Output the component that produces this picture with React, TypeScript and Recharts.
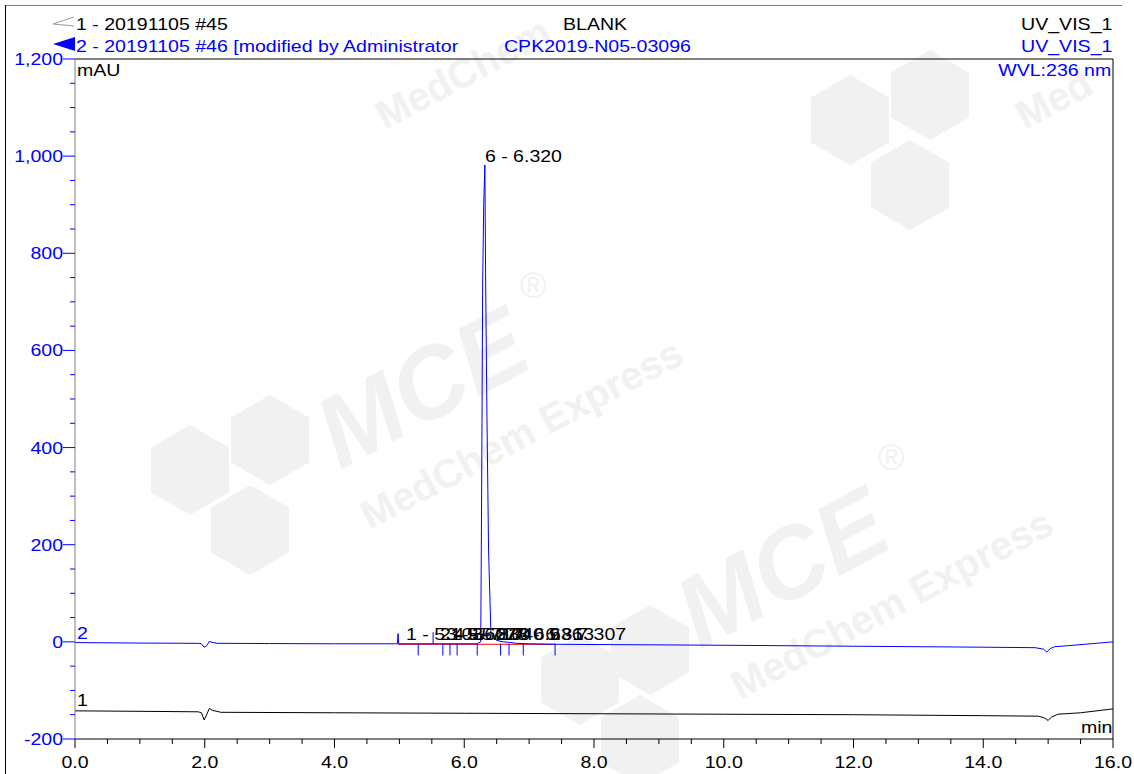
import React from 'react';
import { ComposedChart, Line, Scatter, XAxis, YAxis, ReferenceLine } from 'recharts';

// trace 2 (blue) - 20191105 #46
const blueTime = [0, 1.0, 1.9, 1.95, 1.99, 2.03, 2.07, 2.11, 2.2, 3.0, 4.0, 4.97, 4.98, 4.99, 5.5, 6.0, 6.2, 6.254, 6.263, 6.274, 6.284, 6.3, 6.318, 6.33, 6.35, 6.375, 6.41, 6.45, 6.5, 6.6, 6.7, 6.8, 7.0, 7.4, 8.0, 10.0, 12.0, 14.0, 14.8, 14.93, 14.98, 15.03, 15.1, 15.3, 16.0];
const blueValue = [-1.5, -2.5, -3, -4, -11, -8, 1, -1, -3, -3.5, -4, -4, 17, -4, -4, -4, -4, 0, 189, 463, 739, 900, 982, 739, 463, 189, 20, 8, 3, 0, -1, -3, -4, -5, -5.5, -7, -9, -11, -12, -15, -21, -14, -10, -8, 0];

// trace 1 (black) - 20191105 #45
const blackTime = [0, 1.0, 1.9, 1.95, 1.99, 2.03, 2.07, 2.12, 2.25, 4.0, 6.0, 8.0, 10.0, 12.0, 14.0, 14.85, 14.95, 15.0, 15.05, 15.15, 15.5, 16.0];
const blackValue = [-142, -143, -144, -146, -161, -150, -137, -141, -145, -146, -147, -148, -149, -150, -152, -153, -157, -162, -155, -149, -146, -138];

// peak labels
const peakTime = [5.103, 5.627, 5.717, 5.83, 6.04, 6.318, 6.636, 6.813, 7.307];
const peakHeight = [-2, -2, -2, -2, -2, 982, -2, -2, -2];
const peakName = ['1 - 5.103', '2 - 5.627', '3 - 5.717', '4 - 5.830', '5 - 6.040', '6 - 6.320', '7 - 6.636', '8 - 6.813', '9 - 7.307'];

// peak delimiters (below baseline) and start markers (above)
const delimDown = [5.29, 5.67, 5.78, 5.89, 6.2, 6.56, 6.69, 6.91, 7.4];
const delimUp = [5.52];

const xTicks = [0, 0.5, 1, 1.5, 2, 2.5, 3, 3.5, 4, 4.5, 5, 5.5, 6, 6.5, 7, 7.5, 8, 8.5, 9, 9.5, 10, 10.5, 11, 11.5, 12, 12.5, 13, 13.5, 14, 14.5, 15, 15.5, 16];
const yTicks = [-200, -150, -100, -50, 0, 50, 100, 150, 200, 250, 300, 350, 400, 450, 500, 550, 600, 650, 700, 750, 800, 850, 900, 950, 1000, 1050, 1100, 1150, 1200];

const FONT = '"Liberation Sans", Arial, sans-serif';
const BLUE = '#0000ff';
const SX = 1.15; // text in the reference is stretched horizontally

const buildTable = () => {
  const map = new Map<number, any>();
  blueTime.forEach((t, i) => {
    map.set(t, { ...(map.get(t) || { t }), blue: blueValue[i] });
  });
  blackTime.forEach((t, i) => {
    map.set(t, { ...(map.get(t) || { t }), black: blackValue[i] });
  });
  return Array.from(map.values()).sort((a, b) => a.t - b.t);
};

const table = buildTable();
const peakTable = peakTime.map((t, i) => ({ t, h: peakHeight[i], label: peakName[i] }));

const YTick = (props: any) => {
  const { x, y, payload } = props;
  const v = payload.value;
  const major = v % 200 === 0;
  return (
    <g>
      <line x1={x - (major ? 12 : 5)} x2={x} y1={y} y2={y} stroke={BLUE} />
      {major && (
        <text transform={`translate(${x - 12},${y + 6}) scale(${SX},1)`} textAnchor="end" fill={BLUE} fontSize={17} fontFamily={FONT}>
          {v.toLocaleString('en-US')}
        </text>
      )}
    </g>
  );
};

const XTick = (props: any) => {
  const { x, y, payload } = props;
  const v = payload.value;
  const major = v % 2 === 0;
  return (
    <g>
      <line x1={x} x2={x} y1={y} y2={y + (major ? 9 : 5)} stroke="#000" />
      {major && (
        <text transform={`translate(${x},${y + 29}) scale(${SX},1)`} textAnchor="middle" fill="#000" fontSize={17} fontFamily={FONT}>
          {v.toFixed(1)}
        </text>
      )}
    </g>
  );
};

const PeakLabel = (props: any) => {
  const { cx, cy, payload } = props;
  return (
    <text transform={`translate(${cx},${cy - 3}) scale(${SX},1)`} fill="#000" fontSize={17} fontFamily={FONT}>
      {payload.label}
    </text>
  );
};

const txt = (style: React.CSSProperties, origin = 'left'): React.CSSProperties => ({
  position: 'absolute',
  fontFamily: FONT,
  fontSize: 17,
  lineHeight: '17px',
  whiteSpace: 'nowrap',
  transform: `scaleX(${SX})`,
  transformOrigin: origin,
  ...style,
});

const hex = (cx: number, cy: number, r: number) =>
  [0, 1, 2, 3, 4, 5]
    .map((k) => {
      const a = (Math.PI / 3) * k + Math.PI / 6;
      return `${cx + r * Math.cos(a)},${cy + r * Math.sin(a)}`;
    })
    .join(' ');

const Watermark = () => (
  <svg width={1134} height={774} style={{ position: 'absolute', left: 0, top: 0 }}>
    <g fill="#f1f1f1" fontFamily={FONT}>
      <polygon points={hex(190, 470, 45)} />
      <polygon points={hex(270, 440, 45)} />
      <polygon points={hex(250, 530, 45)} />
      <polygon points={hex(580, 680, 45)} />
      <polygon points={hex(650, 650, 45)} />
      <polygon points={hex(640, 740, 45)} />
      <polygon points={hex(850, 120, 45)} />
      <polygon points={hex(930, 95, 45)} />
      <polygon points={hex(910, 185, 45)} />
      <text x={340} y={470} fontSize={100} fontWeight="bold" fontStyle="italic" transform="rotate(-28 340 470)">MCE</text>
      <text x={370} y={530} fontSize={40} fontWeight="bold" transform="rotate(-28 370 530)">MedChem Express</text>
      <text x={700} y={650} fontSize={100} fontWeight="bold" fontStyle="italic" transform="rotate(-28 700 650)">MCE</text>
      <text x={740} y={700} fontSize={40} fontWeight="bold" transform="rotate(-28 740 700)">MedChem Express</text>
      <text x={385} y={130} fontSize={40} fontWeight="bold" transform="rotate(-28 385 130)">MedChem</text>
      <text x={1025} y={130} fontSize={40} fontWeight="bold" transform="rotate(-28 1025 130)">Med</text>
      <text x={520} y={298} fontSize={36}>®</text>
      <text x={878} y={470} fontSize={36}>®</text>
    </g>
  </svg>
);

const App: React.FC = () => {
  return (
    <div style={{ position: 'absolute', left: 0, top: 0, width: 1134, height: 774, background: '#fff', overflow: 'hidden' }}>
      <Watermark />
      {/* outer frame */}
      <div style={{ position: 'absolute', left: 6, top: 5, width: 1116, height: 0, borderTop: '1px solid #808080' }} />
      <div style={{ position: 'absolute', left: 5, top: 5, width: 0, height: 769, borderLeft: '1px solid #000' }} />

      <div style={{ position: 'absolute', left: 0, top: 0 }}>
        <ComposedChart width={1134} height={774} data={table} margin={{ top: 59, right: 21, bottom: 0, left: 0 }}>
          <XAxis
            dataKey="t"
            type="number"
            domain={[0, 16]}
            ticks={xTicks}
            interval={0}
            allowDataOverflow
            height={35}
            tickSize={0}
            tickMargin={0}
            tickLine={false}
            tick={<XTick />}
            axisLine={{ stroke: '#000' }}
          />
          <YAxis
            type="number"
            domain={[-200, 1200]}
            ticks={yTicks}
            interval={0}
            allowDataOverflow
            width={75}
            tickSize={0}
            tickMargin={0}
            tickLine={false}
            tick={<YTick />}
            axisLine={{ stroke: '#808080' }}
          />
          <ReferenceLine y={1200} stroke="#000" />
          <ReferenceLine x={16} stroke="#000" />
          <ReferenceLine segment={[{ x: 4.98, y: -5 }, { x: 7.4, y: -5 }]} stroke="#ff0000" />
          {delimDown.map((t) => (
            <ReferenceLine key={'d' + t} segment={[{ x: t, y: -4 }, { x: t, y: -28 }]} stroke={BLUE} />
          ))}
          {delimUp.map((t) => (
            <ReferenceLine key={'u' + t} segment={[{ x: t, y: -4 }, { x: t, y: 20 }]} stroke={BLUE} />
          ))}
          <Line type="linear" dataKey="black" stroke="#000" strokeWidth={1} dot={false} connectNulls isAnimationActive={false} />
          <Line type="linear" dataKey="blue" stroke={BLUE} strokeWidth={1} dot={false} connectNulls isAnimationActive={false} />
          <Scatter data={peakTable} dataKey="h" shape={<PeakLabel />} isAnimationActive={false} />
        </ComposedChart>
      </div>

      {/* header */}
      <svg width={80} height={60} style={{ position: 'absolute', left: 0, top: 0 }}>
        <polyline points="74,17 53,24 74,26" fill="none" stroke="#999" strokeWidth={1} />
        <polygon points="53,44 75,37 75,51" fill={BLUE} />
      </svg>
      <div style={txt({ left: 76, top: 16, color: '#000' })}>1 - 20191105 #45</div>
      <div style={txt({ left: 76, top: 38, color: BLUE })}>2 - 20191105 #46 [modified by Administrator</div>
      <div style={txt({ left: 563, top: 16, color: '#000' })}>BLANK</div>
      <div style={txt({ left: 504, top: 38, color: BLUE })}>CPK2019-N05-03096</div>
      <div style={txt({ right: 22, top: 16, color: '#000' }, 'right')}>UV_VIS_1</div>
      <div style={txt({ right: 22, top: 38, color: BLUE }, 'right')}>UV_VIS_1</div>
      <div style={txt({ right: 23, top: 62, color: BLUE }, 'right')}>WVL:236 nm</div>
      <div style={txt({ left: 77, top: 62, color: '#000' })}>mAU</div>
      <div style={txt({ right: 22, top: 719, color: '#000' }, 'right')}>min</div>
      <div style={txt({ left: 77, top: 625, color: BLUE })}>2</div>
      <div style={txt({ left: 77, top: 692, color: '#000' })}>1</div>
    </div>
  );
};

export default App;
